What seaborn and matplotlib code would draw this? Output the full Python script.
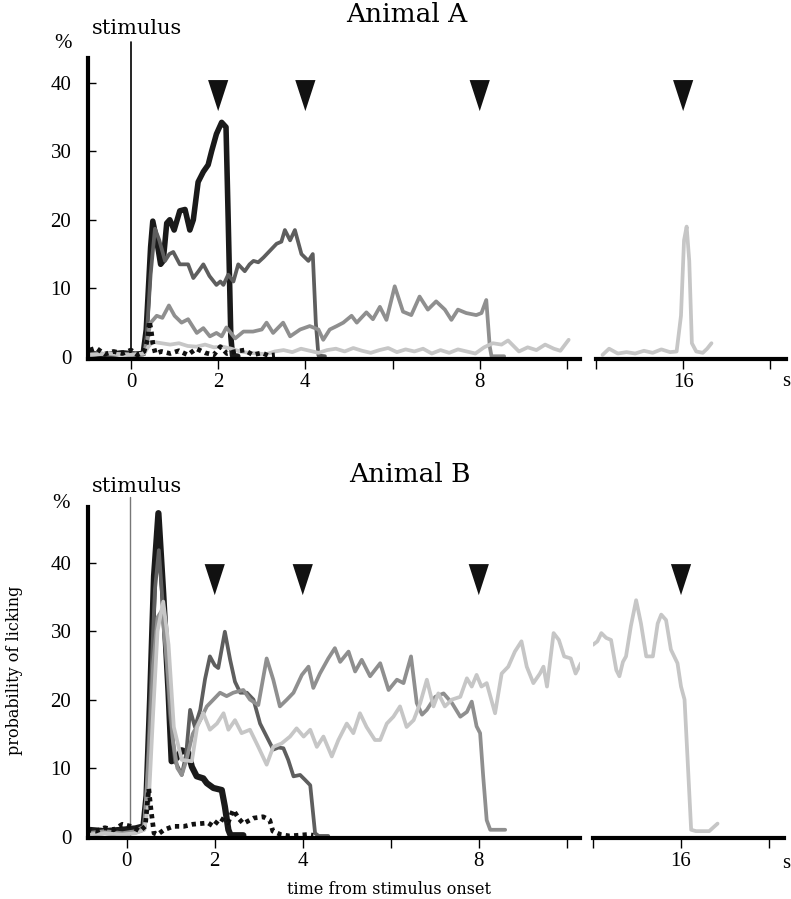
import matplotlib
matplotlib.use("Agg")
import matplotlib.pyplot as plt
import seaborn as sns

# ---- Animal A ------------------------------------------------------------
a_t_2s = [-0.95, -0.6, -0.2, 0.1, 0.28, 0.35, 0.40, 0.45, 0.50, 0.59, 0.68, 0.74, 0.82, 0.89, 0.99,
          1.12, 1.24, 1.35, 1.43, 1.54, 1.66, 1.77, 1.85, 1.96, 2.08, 2.18, 2.23, 2.29, 2.33, 2.45]
a_v_2s = [0.5, 0.3, 0.6, 0.4, 0.5, 4, 10, 16, 19.8, 17, 13.5, 14, 19.5, 20, 18.5,
          21.3, 21.5, 18.5, 20, 25.5, 27, 28, 30, 32.5, 34.2, 33.5, 20, 3, 0.2, 0.1]

a_t_4s = [-0.95, -0.5, 0.0, 0.30, 0.36, 0.45, 0.55, 0.65, 0.78, 0.88, 0.97, 1.12, 1.31, 1.43, 1.55,
          1.66, 1.80, 1.96, 2.05, 2.12, 2.23, 2.35, 2.46, 2.61, 2.72, 2.81, 2.92, 3.04, 3.19, 3.34,
          3.45, 3.53, 3.65, 3.76, 3.91, 4.07, 4.17, 4.24, 4.30, 4.45]
a_v_4s = [0.5, 0.3, 0.5, 0.4, 3, 12, 18.7, 17, 14, 15, 15.3, 13.5, 13.5, 11.5, 12.5,
          13.5, 11.8, 10.5, 11, 10.5, 12, 11, 13.5, 12.5, 13.5, 14, 13.8, 14.5, 15.5, 16.5,
          16.8, 18.5, 17, 18.5, 15, 14, 15, 5, 0.2, 0.1]

a_t_8s = [-0.95, -0.5, 0.0, 0.30, 0.38, 0.44, 0.59, 0.72, 0.87, 1.0, 1.16, 1.31, 1.51, 1.66, 1.81,
          1.96, 2.08, 2.19, 2.39, 2.58, 2.80, 3.0, 3.11, 3.26, 3.49, 3.65, 3.88, 4.10, 4.30, 4.41,
          4.56, 4.72, 4.87, 5.06, 5.18, 5.40, 5.55, 5.71, 5.86, 6.05, 6.24, 6.43, 6.62, 6.81, 7.0,
          7.2, 7.35, 7.5, 7.69, 7.92, 8.04, 8.15, 8.23, 8.27, 8.56]
a_v_8s = [0.3, 0.5, 0.3, 0.5, 2.5, 4.9, 6, 5.7, 7.5, 6, 5, 5.5, 3.5, 4.2, 3,
          3.5, 3, 4.3, 2.7, 3.7, 3.7, 4, 5, 3.5, 5, 3, 4, 4.5, 4, 2.5,
          4, 4.5, 5, 6, 5, 6.5, 5.5, 7.3, 5.4, 10.3, 6.6, 6.1, 8.8, 6.9, 8.1,
          6.9, 5.4, 6.9, 6.4, 6.1, 6.4, 8.3, 1.5, 0.1, 0.1]

a_t_16s = [-0.95, -0.5, 0.0, 0.30, 0.40, 0.50, 0.70, 0.90, 1.10, 1.30, 1.50, 1.70, 1.90, 2.10, 2.30,
           2.50, 2.70, 2.90, 3.10, 3.30, 3.50, 3.70, 3.90, 4.10, 4.30, 4.50, 4.70, 4.90, 5.10, 5.30,
           5.50, 5.70, 5.90, 6.10, 6.30, 6.50, 6.70, 6.90, 7.10, 7.30, 7.50, 7.70, 7.90, 8.10, 8.30,
           8.50, 8.65, 8.90, 9.10, 9.30, 9.50, 9.70, 9.85, 10.04]
a_v_16s = [0.3, 0.5, 0.3, 0.5, 1.5, 2.2, 2.0, 1.8, 2.0, 1.6, 1.5, 1.8, 1.4, 1.5, 1.2,
           0.8, 0.6, 0.5, 0.4, 0.8, 1.0, 0.7, 1.2, 0.9, 0.6, 1.0, 1.2, 0.8, 1.3, 0.9,
           0.6, 1.0, 1.3, 0.7, 1.1, 0.8, 1.2, 0.5, 1.0, 0.6, 1.1, 0.8, 0.5, 1.4, 2.0,
           1.8, 2.4, 0.8, 1.4, 1.0, 1.8, 1.2, 0.9, 2.5]
a_t_16s_late = [14.15, 14.3, 14.5, 14.7, 14.9, 15.1, 15.3, 15.5, 15.7, 15.85, 15.95, 16.02, 16.08,
                16.14, 16.2, 16.3, 16.45, 16.55, 16.65]
a_v_16s_late = [0.3, 1.2, 0.5, 0.7, 0.5, 0.9, 0.6, 1.1, 0.7, 0.8, 6, 17, 19,
                14, 2, 0.8, 0.6, 1.2, 2.0]

a_t_ctrl = [-0.95, -0.8, -0.6, -0.4, -0.2, 0.0, 0.15, 0.3, 0.38, 0.42, 0.46, 0.50, 0.56, 0.7,
            0.9, 1.1, 1.3, 1.5, 1.7, 1.9, 2.05, 2.2, 2.4, 2.6, 2.8, 3.0, 3.15, 3.3]
a_v_ctrl = [1.0, 1.3, 0.4, 0.8, 0.5, 1.0, 0.3, 0.8, 2.5, 5.2, 4, 2, 0.5, 0.8,
            0.5, 0.9, 0.3, 1.2, 0.6, 0.3, 1.5, 0.5, 0.8, 1.0, 0.3, 0.6, 0.2, 0.3]

# ---- Animal B ------------------------------------------------------------
b_t_2s = [-0.9, -0.5, -0.1, 0.2, 0.38, 0.45, 0.53, 0.62, 0.72, 0.83, 0.95, 1.02, 1.14, 1.25,
          1.40, 1.48, 1.59, 1.74, 1.82, 1.97, 2.16, 2.23, 2.31, 2.36, 2.65]
b_v_2s = [1.0, 0.8, 1.0, 1.2, 1.5, 6, 20, 38, 47.2, 35.5, 21, 11, 11.5, 12.6,
          12.2, 10.2, 8.8, 8.5, 7.8, 7.1, 6.8, 4.4, 1.0, 0.2, 0.2]

b_t_4s = [-0.9, -0.5, -0.1, 0.2, 0.38, 0.45, 0.55, 0.64, 0.73, 0.84, 0.98, 1.1, 1.25, 1.35, 1.44,
          1.55, 1.67, 1.78, 1.89, 2.0, 2.08, 2.23, 2.35, 2.46, 2.58, 2.73, 2.88, 3.03, 3.18, 3.33,
          3.45, 3.56, 3.67, 3.79, 3.94, 4.05, 4.17, 4.28, 4.36, 4.58]
b_v_4s = [0.3, 0.5, 0.3, 0.6, 1.0, 6, 22, 36, 41.8, 32, 18, 11, 9, 12, 18.5,
          16, 18.5, 23, 26.3, 25, 24.6, 29.9, 25.8, 22.6, 21, 21, 20, 16.5, 14.6, 12.7,
          13, 12.9, 11.2, 8.8, 9, 8.3, 7.5, 0.5, 0.1, 0.1]

b_t_8s = [-0.9, -0.5, -0.1, 0.2, 0.4, 0.5, 0.6, 0.7, 0.8, 0.92, 1.05, 1.15, 1.25, 1.35, 1.5,
          1.67, 1.82, 1.97, 2.12, 2.27, 2.42, 2.65, 2.8, 2.99, 3.18, 3.33, 3.48, 3.64, 3.79, 3.98,
          4.13, 4.24, 4.39, 4.58, 4.73, 4.85, 5.04, 5.19, 5.34, 5.53, 5.76, 5.95, 6.14, 6.29, 6.46,
          6.59, 6.71, 6.82, 7.01, 7.2, 7.39, 7.58, 7.73, 7.84, 7.95, 8.03, 8.1, 8.18, 8.26, 8.6]
b_v_8s = [0.5, 0.8, 0.5, 0.8, 1.5, 12, 25, 32, 33, 25, 14, 10, 9, 11, 15,
          17, 19, 20, 21, 20.5, 21, 21.4, 20, 19.2, 26, 22.9, 19, 20, 21, 23.6,
          24.8, 21.7, 23.8, 26, 27.5, 25.5, 27, 24.1, 25.8, 23.4, 25.3, 21.4, 22.9, 22.4, 26.3,
          19.5, 17.8, 18.5, 20.4, 20.9, 19.5, 17.5, 18.2, 19.7, 16.1, 15.1, 8.8, 2.4, 1.0, 1.0]

b_t_16s = [-0.9, -0.5, -0.1, 0.2, 0.4, 0.5, 0.6, 0.7, 0.83, 0.95, 1.07, 1.25, 1.48, 1.6, 1.74,
           1.89, 2.05, 2.2, 2.31, 2.46, 2.61, 2.8, 2.99, 3.18, 3.33, 3.52, 3.71, 3.86, 4.02, 4.17,
           4.32, 4.47, 4.66, 4.81, 5.0, 5.15, 5.3, 5.45, 5.64, 5.76, 5.91, 6.06, 6.21, 6.36, 6.52,
           6.67, 6.82, 6.97, 7.08, 7.23, 7.39, 7.58, 7.73, 7.84, 7.95, 8.06, 8.18, 8.37, 8.52, 8.67,
           8.82, 8.97, 9.09, 9.24, 9.39, 9.47, 9.55, 9.7, 9.82, 9.94, 10.09, 10.2, 10.32]
b_v_16s = [0.3, 0.5, 0.3, 0.5, 1.0, 5, 18, 30, 34.3, 28, 16, 11.2, 11, 16, 18,
           15.6, 16.5, 18, 15.6, 17, 15.1, 15.6, 13.1, 10.5, 13.1, 13.6, 14.6, 15.8, 14.6, 15.6,
           13.1, 14.6, 11.7, 14.1, 16.5, 15.1, 18, 16, 14.1, 14.1, 16.5, 17.5, 19, 16, 17,
           19.5, 22.9, 19, 20.9, 19, 20, 20.4, 23.1, 21.9, 23.6, 21.9, 22.4, 18, 23.8, 24.8,
           27, 28.5, 24.8, 22.4, 23.8, 24.8, 21.9, 29.7, 28.7, 26.3, 26, 23.8, 25.3]
b_t_16s_late = [14.0, 14.1, 14.19, 14.3, 14.41, 14.53, 14.6, 14.68, 14.75, 14.86, 14.98, 15.09, 15.21,
                15.36, 15.47, 15.55, 15.66, 15.77, 15.92, 16.0, 16.08, 16.15, 16.23, 16.34, 16.64, 16.83]
b_v_16s_late = [28, 28.5, 29.7, 29, 28.7, 24.3, 23.4, 25.5, 26.3, 30.7, 34.5, 31.1, 26.3,
                26.3, 31.1, 32.4, 31.6, 27.3, 25.3, 21.9, 20, 11.2, 1.0, 0.8, 0.8, 1.9]

b_t_ctrl = [-0.9, -0.7, -0.5, -0.3, -0.1, 0.1, 0.3, 0.42, 0.5, 0.55, 0.62, 0.7, 0.85, 1.06, 1.3,
            1.5, 1.67, 1.85, 1.97, 2.12, 2.3, 2.42, 2.55, 2.65, 2.88, 3.1, 3.25, 3.32, 3.5, 3.7,
            3.9, 4.1, 4.24]
b_v_ctrl = [1.0, 0.8, 1.3, 1.0, 1.8, 1.5, 0.8, 1.5, 7, 4, 0.5, 0.3, 1.0, 1.5, 1.5,
            1.8, 1.9, 2.0, 1.5, 2.7, 2.0, 3.9, 2.6, 1.9, 2.7, 2.9, 2.4, 0.8, 0.3, 0.1,
            0.2, 0.3, 0.2]

# reward delivery markers (s after stimulus onset)
reward_times = [2, 4, 8, 16]

# grey levels for the delay conditions
C_2S, C_4S, C_8S, C_16S = "#1a1a1a", "#5e5e5e", "#8f8f8f", "#c6c6c6"

W, H = 791, 899
DIGITS = "Liberation Serif"
WORDS = "DejaVu Serif"

sns.set_style("white")
plt.rcParams["font.family"] = [WORDS, "DejaVu Sans"]
plt.rcParams["text.color"] = "black"

fig = plt.figure(figsize=(W / 100, H / 100), dpi=100)


def box(x0, y0, x1, y1):
    # pixel box (top-left origin) -> figure fraction rect
    return [x0 / W, 1 - y1 / H, (x1 - x0) / W, (y1 - y0) / H]


def ftext(x, y, s, **kw):
    fig.text(x / W, 1 - y / H, s, ha="center", va="center", **kw)


def line(ax, t, v, color, lw, **kw):
    sns.lineplot(x=t, y=v, ax=ax, color=color, linewidth=lw, sort=False,
                 estimator=None, legend=False, **kw)


tri = [(-0.65, 1), (0.65, 1), (0, -1)]


def style_axes(ax_l, ax_r, xlim_l, xlim_r, ylim):
    for ax in (ax_l, ax_r):
        ax.set_ylim(*ylim)
        for side in ("top", "right"):
            ax.spines[side].set_visible(False)
        ax.spines["bottom"].set_linewidth(3)
        ax.spines["bottom"].set_color("black")
        ax.tick_params(axis="x", bottom=True, direction="out", length=7, width=1, pad=3,
                       labelsize=15, colors="black")
        ax.set_xlabel("")
        ax.set_ylabel("")
    ax_l.set_xlim(*xlim_l)
    ax_r.set_xlim(*xlim_r)
    ax_l.spines["left"].set_linewidth(3)
    ax_l.spines["left"].set_color("black")
    ax_r.spines["left"].set_visible(False)
    ax_l.set_xticks([0, 2, 4, 6, 8, 10], ["0", "2", "4", "", "8", ""])
    ax_r.set_xticks([14, 16, 18], ["", "16", ""])
    ax_l.set_yticks([0, 10, 20, 30, 40], ["0", "10", "20", "30", "40"])
    ax_l.tick_params(axis="y", left=True, direction="in", length=6, width=1, pad=12,
                     labelsize=15, colors="black")
    ax_r.set_yticks([])
    for ax in (ax_l, ax_r):
        for lab in ax.get_xticklabels() + ax.get_yticklabels():
            lab.set_fontfamily(DIGITS)


def panel(ax_l, ax_r, series_l, series_r, ctrl, tri_y, stim_x, stim_top, stim_color, stim_lw):
    ax_l.plot([stim_x, stim_x], [0, stim_top], color=stim_color, lw=stim_lw, clip_on=False, zorder=1)
    for t, v, c, lw in series_l:
        line(ax_l, t, v, c, lw)
    for t, v, c, lw in series_r:
        line(ax_r, t, v, c, lw)
    # no-reward control trials, drawn as a heavy dotted trace on top
    line(ax_l, ctrl[0], ctrl[1], "#111111", 3.4, linestyle=(0, (0.9, 0.9)))
    left_r = [r for r in reward_times if r < 12]
    right_r = [r for r in reward_times if r > 12]
    sns.scatterplot(x=left_r, y=[tri_y] * len(left_r), ax=ax_l, marker=tri, s=500,
                    color="#111111", edgecolor="none", legend=False)
    sns.scatterplot(x=right_r, y=[tri_y] * len(right_r), ax=ax_r, marker=tri, s=500,
                    color="#111111", edgecolor="none", legend=False)


# ---- Animal A axes ----
axA = fig.add_axes(box(88, 58, 580, 359))
axA2 = fig.add_axes(box(596, 58, 786, 359))
panel(axA, axA2,
      [(a_t_2s, a_v_2s, C_2S, 4.0), (a_t_4s, a_v_4s, C_4S, 2.7),
       (a_t_8s, a_v_8s, C_8S, 2.7), (a_t_16s, a_v_16s, C_16S, 2.7)],
      [(a_t_16s_late, a_v_16s_late, C_16S, 2.7)],
      (a_t_ctrl, a_v_ctrl), 38.1, 0.0, 45.9, "black", 1.2)
style_axes(axA, axA2, (-0.986, 10.30), (14, 18.36), (-0.3, 43.58))

# ---- Animal B axes ----
axB = fig.add_axes(box(88, 507, 580, 838))
axB2 = fig.add_axes(box(593, 507, 784, 838))
panel(axB, axB2,
      [(b_t_2s, b_v_2s, C_2S, 4.5), (b_t_4s, b_v_4s, C_4S, 2.7),
       (b_t_8s, b_v_8s, C_8S, 2.7), (b_t_16s, b_v_16s, C_16S, 2.7)],
      [(b_t_16s_late, b_v_16s_late, C_16S, 2.7)],
      (b_t_ctrl, b_v_ctrl), 37.5, 0.08, 49.6, "#777777", 1.0)
style_axes(axB, axB2, (-0.88, 10.30), (14, 18.34), (-0.2, 48.1))

# ---- labels ----
ftext(407, 15, "Animal A", fontsize=19)
ftext(410, 475, "Animal B", fontsize=19)
ftext(137, 29, "stimulus", fontsize=15)
ftext(137, 487, "stimulus", fontsize=15)
ftext(63, 44, "%", fontsize=15, fontfamily=DIGITS)
ftext(61, 503, "%", fontsize=15, fontfamily=DIGITS)
ftext(786, 381, "s", fontsize=15, fontfamily=DIGITS)
ftext(786, 864, "s", fontsize=15, fontfamily=DIGITS)
ftext(389, 889, "time from stimulus onset", fontsize=11.5)
ftext(15, 670, "probability of licking", fontsize=11.5, rotation=90)

fig.savefig("out.png", dpi=100)
